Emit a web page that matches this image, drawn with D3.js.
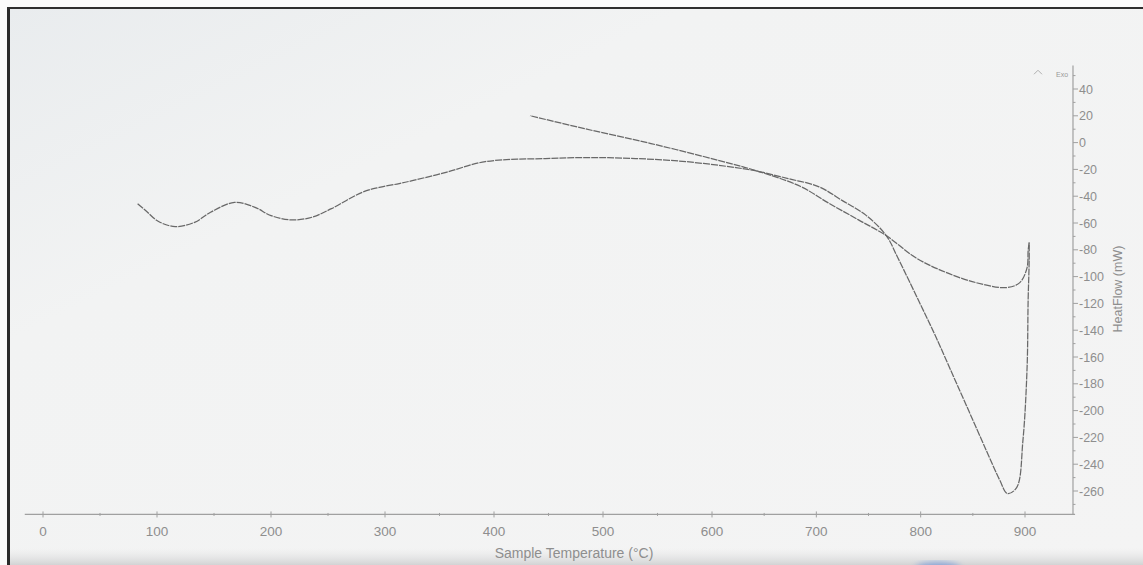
<!DOCTYPE html>
<html>
<head>
<meta charset="utf-8">
<script src="https://cdn.jsdelivr.net/npm/d3@7"></script>
<style>
  html, body { margin: 0; padding: 0; background: #ffffff; }
  svg { display: block; }
</style>
</head>
<body>
<svg id="chart" width="1143" height="565"></svg>
<script>
// Heating run: sample temperature (°C) and heat flow (mW)
const heatTemp = [83, 90, 101, 116, 133, 147, 168, 186, 200, 218, 236, 253, 280, 295, 313, 325,
  356, 392, 447, 489, 530, 576, 623, 645, 673, 702, 725, 748, 767, 778, 798, 814, 830, 846,
  863, 876, 883, 892, 898, 902, 903, 904, 904];
const heatFlow = [-45.7, -50.7, -58.7, -62.7, -59.5, -52, -44.6, -48.3, -54.5, -57.7, -55.7, -49.3,
  -37.1, -33.4, -30.6, -28.4, -22.2, -14.2, -11.9, -11.2, -11.9, -14.2, -18.7, -21.6, -26.9,
  -32.8, -43.3, -54.5, -69.4, -85.8, -117.9, -144, -172, -200, -229.9, -252.2, -261.9,
  -257.5, -222.4, -167.9, -117.9, -88, -74.6];

// Cooling run back down from the top temperature
const coolTemp = [904, 903, 902, 895, 882, 853, 820, 795, 767, 740, 711, 685, 645, 607, 544, 483, 433];
const coolFlow = [-74.6, -80.6, -93.3, -104.5, -108.2, -104.5, -95.5, -85.8, -69.4, -57.5, -44.8,
  -32.8, -21.6, -13.4, -0.7, 10.4, 20.1];

// Axis ticks
const xTicks = [0, 100, 200, 300, 400, 500, 600, 700, 800, 900];
const xMinorTicks = [50, 150, 250, 350, 450, 550, 650, 750, 850];
const yTicks = [40, 20, 0, -20, -40, -60, -80, -100, -120, -140, -160, -180, -200, -220, -240, -260];
const yMinorTicks = [50, 30, 10, -10, -30, -50, -70, -90, -110, -130, -150, -170, -190, -210, -230, -250, -270];

const xTitle = "Sample Temperature (°C)";
const yTitle = "HeatFlow (mW)";
const exoLabel = "Exo";

const svg = d3.select("#chart");
const W = 1143, H = 565;

// ---- paper background and frame ----
const defs = svg.append("defs");
const bg = defs.append("linearGradient").attr("id", "paper")
  .attr("x1", "0").attr("y1", "0").attr("x2", "1").attr("y2", "1");
bg.append("stop").attr("offset", "0").attr("stop-color", "#e9ecee");
bg.append("stop").attr("offset", "0.3").attr("stop-color", "#f2f3f3");
bg.append("stop").attr("offset", "1").attr("stop-color", "#f4f4f4");
const bottomShade = defs.append("linearGradient").attr("id", "bottomShade")
  .attr("x1", "0").attr("y1", "0").attr("x2", "0").attr("y2", "1");
bottomShade.append("stop").attr("offset", "0").attr("stop-color", "#e6e6e6").attr("stop-opacity", 0);
bottomShade.append("stop").attr("offset", "1").attr("stop-color", "#d2d3d4").attr("stop-opacity", 1);
defs.append("filter").attr("id", "soft").append("feGaussianBlur").attr("stdDeviation", 3);

svg.append("rect").attr("width", W).attr("height", H).attr("fill", "#fbfbfb");
svg.append("rect").attr("x", 8).attr("y", 8).attr("width", W - 8).attr("height", H - 8).attr("fill", "url(#paper)");
svg.append("rect").attr("x", 8).attr("y", 548).attr("width", W - 8).attr("height", 17).attr("fill", "url(#bottomShade)");
svg.append("ellipse").attr("cx", 938).attr("cy", 568).attr("rx", 22).attr("ry", 6)
  .attr("fill", "#4f7fd8").attr("opacity", 0.55).attr("filter", "url(#soft)");
svg.append("rect").attr("x", 7).attr("y", 7).attr("width", 3).attr("height", H - 7).attr("fill", "#2b2b2b");
svg.append("rect").attr("x", 7).attr("y", 7).attr("width", W - 7).attr("height", 2).attr("fill", "#2f2f2f");

// ---- scales (the photographed sheet is slightly foreshortened along x) ----
const x = d3.scaleLinear().domain([0, 300, 600, 900]).range([43, 385, 712, 1025]);
const y = d3.scaleLinear().domain([40, -260]).range([89, 491]);

const axisColor = "#a0a0a0";
const textColor = "#8e8e8e";
const tickFont = "'Liberation Sans Narrow', 'Liberation Sans', Arial, sans-serif";

const xAxisY = y(-277.5);
const yAxisX = x(946);

// ---- bottom axis ----
const gx = svg.append("g").attr("transform", `translate(0,${xAxisY})`);
gx.append("line")
  .attr("x1", x(-16)).attr("x2", x(948))
  .attr("stroke", axisColor).attr("stroke-width", 1.2);
gx.selectAll("line.major").data(xTicks).join("line").attr("class", "major")
  .attr("x1", d => x(d)).attr("x2", d => x(d)).attr("y1", -3).attr("y2", 3)
  .attr("stroke", axisColor).attr("stroke-width", 1);
gx.selectAll("line.minor").data(xMinorTicks).join("line").attr("class", "minor")
  .attr("x1", d => x(d)).attr("x2", d => x(d)).attr("y1", -1.5).attr("y2", 1.5)
  .attr("stroke", axisColor).attr("stroke-width", 1);
gx.selectAll("text").data(xTicks).join("text")
  .attr("x", d => x(d)).attr("y", 22)
  .attr("text-anchor", "middle")
  .attr("font-family", tickFont).attr("font-size", 13.5)
  .attr("fill", textColor)
  .text(d => String(d));

svg.append("text")
  .attr("x", 574).attr("y", 558)
  .attr("text-anchor", "middle")
  .attr("font-family", "'Liberation Sans', Arial, sans-serif").attr("font-size", 14)
  .attr("fill", textColor)
  .text(xTitle);

// ---- right axis ----
const gy = svg.append("g").attr("transform", `translate(${yAxisX},0)`);
gy.append("line")
  .attr("y1", y(57.5)).attr("y2", y(-277.5))
  .attr("stroke", axisColor).attr("stroke-width", 1.2);
gy.selectAll("line.major").data(yTicks).join("line").attr("class", "major")
  .attr("y1", d => y(d)).attr("y2", d => y(d)).attr("x1", 0).attr("x2", 5)
  .attr("stroke", axisColor).attr("stroke-width", 1);
gy.selectAll("line.minor").data(yMinorTicks).join("line").attr("class", "minor")
  .attr("y1", d => y(d)).attr("y2", d => y(d)).attr("x1", 0).attr("x2", 2.5)
  .attr("stroke", axisColor).attr("stroke-width", 1);
gy.selectAll("text").data(yTicks).join("text")
  .attr("x", 6).attr("y", d => y(d)).attr("dy", "0.36em")
  .attr("font-family", tickFont).attr("font-size", 12.5)
  .attr("fill", textColor)
  .text(d => String(d));

svg.append("text")
  .attr("transform", `translate(1122,289) rotate(-90)`)
  .attr("text-anchor", "middle")
  .attr("font-family", "'Liberation Sans', Arial, sans-serif").attr("font-size", 12.5)
  .attr("fill", textColor)
  .text(yTitle);

// exotherm direction marker
svg.append("path")
  .attr("d", `M${yAxisX - 39},${y(51)} l4,-4 l4,4`)
  .attr("fill", "none").attr("stroke", "#b0b0b0").attr("stroke-width", 1);
svg.append("text")
  .attr("x", yAxisX - 17).attr("y", y(49))
  .attr("font-family", "'Liberation Sans', Arial, sans-serif").attr("font-size", 7)
  .attr("fill", "#999")
  .text(exoLabel);

// ---- curves ----
const line = d3.line()
  .x(d => x(d[0]))
  .y(d => y(d[1]))
  .curve(d3.curveCatmullRom.alpha(0.5));

const heating = d3.zip(heatTemp, heatFlow);
const cooling = d3.zip(coolTemp, coolFlow);

svg.selectAll("path.trace").data([heating, cooling]).join("path")
  .attr("class", "trace")
  .attr("d", line)
  .attr("fill", "none")
  .attr("stroke", "#686868")
  .attr("stroke-width", 1.25)
  .attr("stroke-dasharray", "7 1")
  .attr("stroke-linejoin", "round");
</script>
</body>
</html>
